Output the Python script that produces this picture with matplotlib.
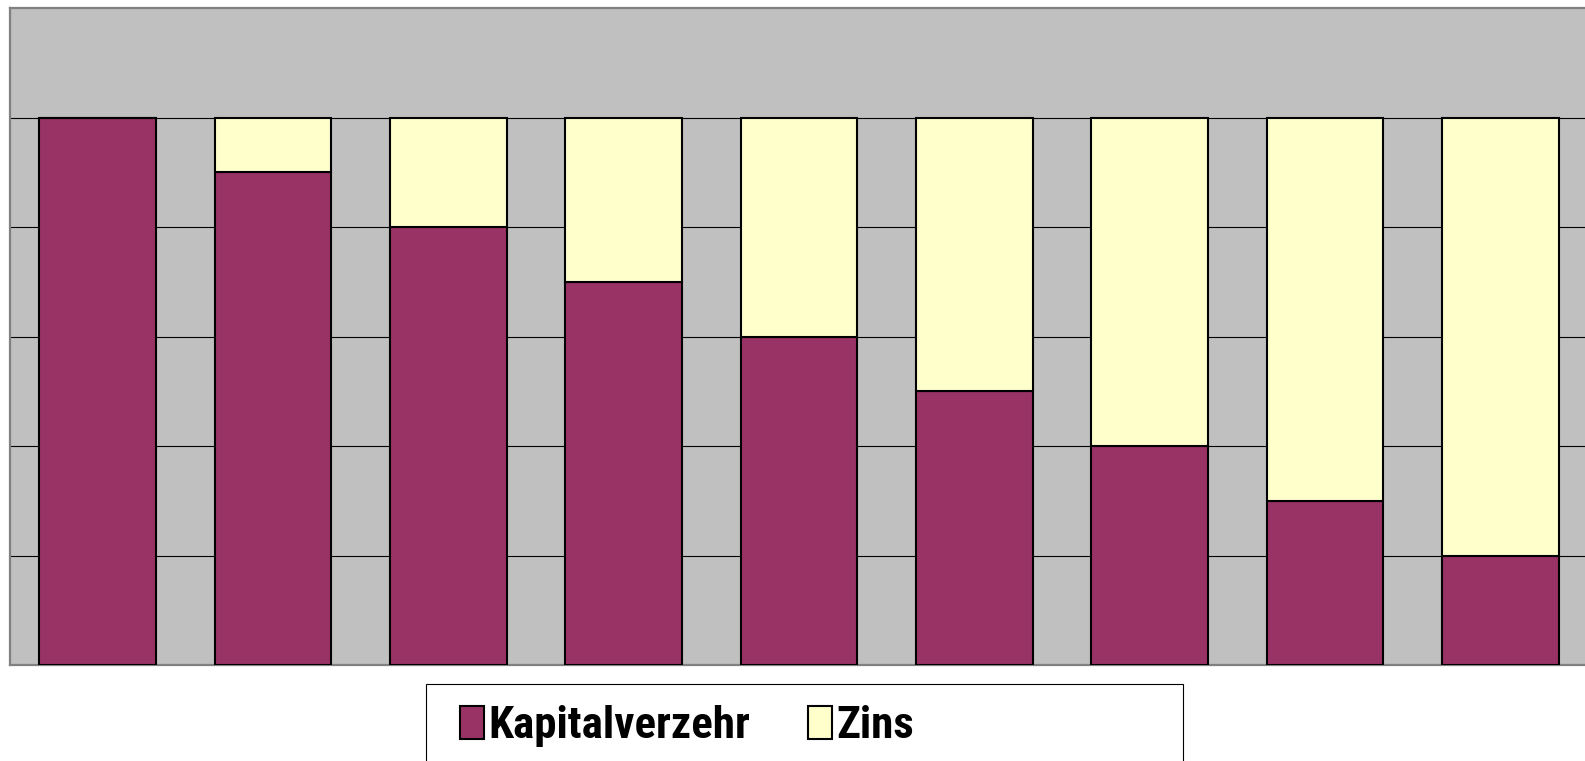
import matplotlib
matplotlib.use("Agg")
import matplotlib.pyplot as plt
from matplotlib.patches import Rectangle, Patch

categories = ["1", "2", "3", "4", "5", "6", "7", "8", "9"]
kapitalverzehr = [100, 90, 80, 70, 60, 50, 40, 30, 20]
zins = [0, 10, 20, 30, 40, 50, 60, 70, 80]
series_names = ["Kapitalverzehr", "Zins"]

W, H = 1585, 761
fig = plt.figure(figsize=(W / 100, H / 100), dpi=100)
fig.patch.set_facecolor("white")

ax = fig.add_axes([10 / W, (H - 665) / H, (1588 - 10) / W, (665 - 8) / H])
ax.set_facecolor("#C0C0C0")
x = list(range(len(categories)))
ax.bar(x, kapitalverzehr, width=0.667, color="#993366", edgecolor="black",
       linewidth=1.5, zorder=3, label=series_names[0])
ax.bar(x, zins, bottom=kapitalverzehr, width=0.667, color="#FFFFCC",
       edgecolor="black", linewidth=1.5, zorder=3, label=series_names[1])
ax.set_xlim(-0.5, len(categories) - 0.5)
ax.set_ylim(0, 120)
for yv in [20, 40, 60, 80, 100]:
    ax.axhline(yv, color="black", linewidth=0.8, zorder=1)
ax.set_xticks([])
ax.set_yticks([])
for s in ax.spines.values():
    s.set_color("#808080")
    s.set_linewidth(1.6)

# legend frame
fig.patches.append(Rectangle((426 / W, -0.1), (1183 - 426) / W, (H - 684) / H + 0.1,
                             transform=fig.transFigure, facecolor="white",
                             edgecolor="black", linewidth=0.8, zorder=1))

fam = ["Roboto Condensed", "PT Sans Narrow", "Liberation Sans", "DejaVu Sans"]
colors = ["#993366", "#FFFFCC"]
xs = [460, 808]

# pick a font size whose label width fits the reference (~260 px)
renderer = fig.canvas.get_renderer()
fs = 36
t = fig.text(0, 0, series_names[0], family=fam, weight="bold", size=fs)
wpx = t.get_window_extent(renderer).width
if wpx > 262:
    fs = fs * 262 / wpx
t.remove()

for name, col, xp in zip(series_names, colors, xs):
    h = Patch(facecolor=col, edgecolor="black", linewidth=1.5)
    lg = fig.legend(handles=[h], labels=[name], loc="center left",
                    bbox_to_anchor=(xp / W, (H - 726) / H), frameon=False,
                    borderpad=0, borderaxespad=0, handlelength=24 / (fs * 100 / 72),
                    handleheight=33 / (fs * 100 / 72), handletextpad=0.1,
                    prop={"family": fam, "weight": "bold", "size": fs})
    lg.set_zorder(5)

fig.savefig("out.png", dpi=100)
